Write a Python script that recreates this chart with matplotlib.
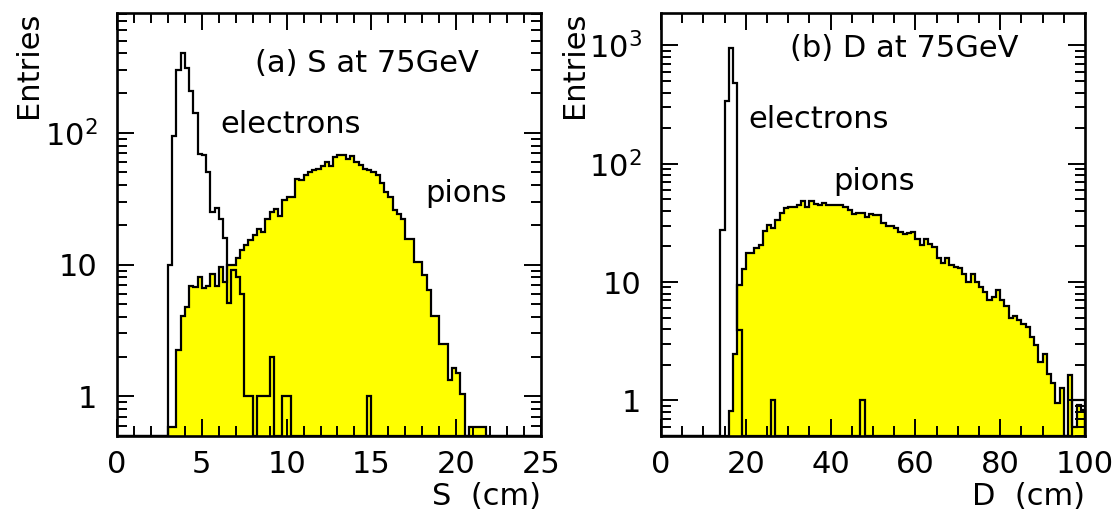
import numpy as np
import matplotlib
matplotlib.use("Agg")
import matplotlib.pyplot as plt
from matplotlib.ticker import LogLocator, MultipleLocator, NullFormatter

# ---------------- data ----------------
# panel (a): S in cm, 100 bins of 0.25 cm from 0 to 25
s_edges = np.linspace(0, 25, 101)
s_electrons = ([0] * 12 +
               [10, 95, 297, 406, 312, 206, 141, 69,
                68, 50, 25, 27, 22, 16, 5.1, 9.1,
                8.1, 6.0, 1, 1, 0, 1, 1, 1,
                2, 0, 0, 1, 1] +
               [0] * 18 + [1] + [0] * 40)
s_pions = ([0] * 12 +
           [0.59, 0.59, 2.24, 4.1, 4.75, 6.85, 6.7, 8.0,
            6.6, 6.85, 8.5, 6.85, 9.6, 7.4, 10, 10,
            11.3, 13.0, 14.1, 15.4, 16.8, 18.6, 17.6, 22.3,
            24.9, 26.6, 23.2, 31, 32.4, 32.4, 44.8, 44,
            48, 50, 52.5, 53.4, 56.3, 60, 56.3, 65.4,
            67.3, 68, 63.6, 66.8, 59.5, 57.2, 53, 51.8,
            50.4, 48, 41.6, 35.3, 32.6, 25.8, 24.3, 22,
            15.7, 15.7, 10.4, 10.4, 8.26, 6.4, 4.1, 4.1,
            2.5, 2.5, 1.33, 1.65, 1.51, 1.05, 0, 0.59,
            0.59, 0.59, 0.59] +
           [0] * 13)

# panel (b): D in cm, 100 bins of 1 cm from 0 to 100
d_edges = np.linspace(0, 100, 101)
d_electrons = ([0] * 14 + [27.6, 337, 955, 482, 3.9] + [0] * 7 + [1] +
               [0] * 20 + [1] + [0] * 49 + [1, 1, 1])
d_pions = ([0] * 16 +
           [0.81, 2.45, 9.4, 12.9, 17.6, 17.6, 19.5, 20.6,
            26.9, 30.1, 28.5, 33.5, 38.4, 42.3, 43.5, 43.5,
            44.5, 48, 43.5, 48, 45.7, 45, 47, 45,
            44.5, 45, 45, 42.9, 40.8, 37.4, 38.2, 38.2,
            35.8, 37.6, 36.6, 36.9, 31.4, 29.8, 29.5, 28.5,
            26.3, 25.5, 25.8, 26.3, 23.1, 20.5, 23.1, 20.9,
            19.9, 15.9, 14.4, 16.1, 13.9, 13.3, 13.1, 11.6,
            10.1, 11.6, 10.0, 9.1, 8.2, 7.0, 7.5, 8.5,
            7.0, 6.3, 5.0, 5.2, 4.75, 4.4, 4.2, 3.44,
            2.92, 2.11, 2.45, 1.66, 1.4, 0.95, 1.28, 0,
            1.63, 0.59, 0.92, 0.83])

s_xticks = [0, 5, 10, 15, 20, 25]
d_xticks = [0, 20, 40, 60, 80, 100]
s_yticks = [1, 10, 100]
s_ylabels = ["1", "10", r"$\mathregular{10^{2}}$"]
d_yticks = [1, 10, 100, 1000]
d_ylabels = ["1", "10", r"$\mathregular{10^{2}}$", r"$\mathregular{10^{3}}$"]

# ---------------- style ----------------
FONT = "DejaVu Sans"
plt.rcParams["font.family"] = [FONT]
plt.rcParams["mathtext.fontset"] = "custom"
plt.rcParams["mathtext.rm"] = FONT
FS = 22

fig = plt.figure(figsize=(11.2, 5.13), dpi=100)
ax_a = fig.add_axes([117 / 1120, 77 / 513, 424 / 1120, 423 / 513])
ax_b = fig.add_axes([661 / 1120, 77 / 513, 424 / 1120, 423 / 513])


def draw(ax, edges, pions, electrons, ymin, ymax, xticks, xminor,
         yticks, ylabels, title, xlabel, pos):
    p = np.asarray(pions, float)
    e = np.asarray(electrons, float)
    p = np.where(p > 0, p, ymin)
    e = np.where(e > 0, e, ymin)
    ax.set_yscale("log")
    ax.stairs(p, edges, baseline=ymin, fill=True, color="#ffff00",
              lw=0, zorder=1)
    ax.stairs(p, edges, baseline=ymin, color="black", lw=1.6, zorder=2)
    ax.stairs(e, edges, baseline=ymin, color="black", lw=1.6, zorder=3)
    ax.set_xlim(edges[0], edges[-1])
    ax.set_ylim(ymin, ymax)
    ax.set_xticks(xticks)
    ax.set_xticklabels([str(t) for t in xticks], fontsize=FS)
    ax.xaxis.set_minor_locator(MultipleLocator(xminor))
    ax.set_yticks(yticks)
    ax.set_yticklabels(ylabels, fontsize=FS)
    ax.yaxis.set_minor_locator(LogLocator(base=10, subs=np.arange(2, 10)))
    ax.yaxis.set_minor_formatter(NullFormatter())
    ax.tick_params(which="both", direction="in", top=True, right=True,
                   width=1.4, zorder=5)
    ax.tick_params(which="major", length=12)
    ax.tick_params(which="minor", length=7)
    ax.tick_params(axis="x", which="major", pad=10)
    ax.tick_params(axis="y", which="major", pad=14)
    for sp in ax.spines.values():
        sp.set_linewidth(1.9)
        sp.set_zorder(6)
    ax.text(pos[0][0], pos[0][1], title, transform=ax.transAxes,
            fontsize=FS, va="baseline", ha="left")
    ax.text(pos[1][0], pos[1][1], "electrons", transform=ax.transAxes,
            fontsize=FS, va="baseline", ha="left")
    ax.text(pos[2][0], pos[2][1], "pions", transform=ax.transAxes,
            fontsize=FS, va="baseline", ha="left")
    ax.text(1.0, -0.163, xlabel, transform=ax.transAxes, fontsize=FS,
            va="baseline", ha="right")


draw(ax_a, s_edges, s_pions, s_electrons, 0.5, 810, s_xticks, 1,
     s_yticks, s_ylabels, "(a) S at 75GeV", "S  (cm)",
     [(0.325, 0.861), (0.243, 0.716), (0.726, 0.553)])
draw(ax_b, d_edges, d_pions, d_electrons, 0.5, 1880, d_xticks, 5,
     d_yticks, d_ylabels, "(b) D at 75GeV", "D  (cm)",
     [(0.304, 0.896), (0.205, 0.728), (0.406, 0.582)])

fig.text(28 / 1120, 1 - 12 / 513, "Entries", rotation=90, fontsize=FS,
         ha="center", va="top")
fig.text(575 / 1120, 1 - 12 / 513, "Entries", rotation=90, fontsize=FS,
         ha="center", va="top")

fig.savefig("out.png", dpi=100)
